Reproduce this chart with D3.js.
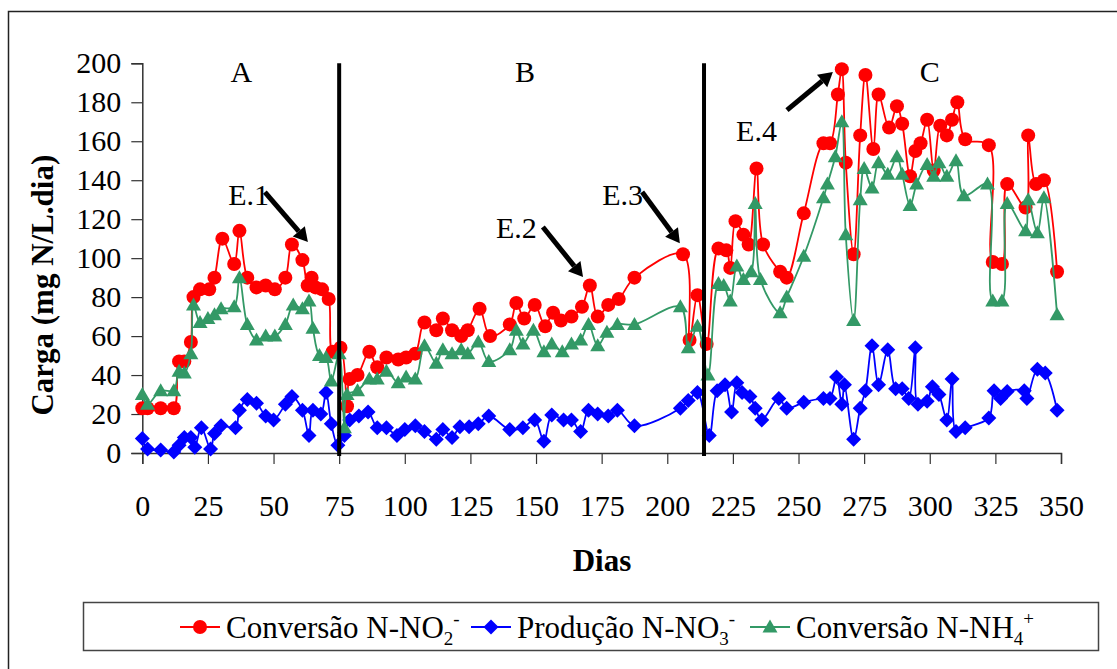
<!DOCTYPE html>
<html>
<head>
<meta charset="utf-8">
<script src="https://cdn.jsdelivr.net/npm/d3@7"></script>
<style>
  body { margin: 0; background: #fff; }
  svg text { font-family: "Liberation Serif", "Times New Roman", "DejaVu Serif", serif; }
</style>
</head>
<body>
<svg id="chart" width="1117" height="669"></svg>
<script>
// Data (day, carga)
const no2Days = [0,2,7,12,14,16,18.5,19.5,22,25.5,27.5,30.5,35,37,40,43.5,47,50.5,54.5,57,61,63,64.5,66,68.5,71,72.5,75.5,78,79,82,86.5,89.5,93,97.5,100.5,104,107.5,112,114.5,118,121.5,124,128.5,132.5,140,142.5,145.5,149.5,153.5,156.5,159.5,163.5,167.5,170.5,173.5,177.5,181.5,187.5,206,208.5,211.5,215,219.5,222.5,224,226,229,231,234,236.5,243,245.5,252,259.5,262,265,266.5,268,271,273.5,275.5,278.5,280.5,284.5,287.5,289.5,292.5,294.5,296.5,299,301.5,304,306.5,308.5,310.5,313.5,322.5,324,327.5,329.5,336.5,337.5,340.5,343.5,348.5];
const no2Vals = [23,23,23,23,47,47,57,80,84,84,90,110,97,114,90,85,86,84,90,107,99,86,90,85,84,79,52,54,24,38,40,52,44,49,48,49,51,67,63,69,63,60,63,74,60,66,77,69,76,65,72,68,70,75,86,70,76,79,90,102,58,81,56,105,104,95,119,112,107,146,107,93,90,123,159,159,184,197,149,102,163,194,156,184,167,178,169,142,155,159,171,145,168,163,171,180,161,158,98,97,138,126,163,138,140,93];

const no3Days = [0,2,7,12,14,16,18.5,20,22.5,26,27.5,30,35.5,37,40,43.5,47,50,54.5,57,61,63.5,65,68,70,72,74.5,77,79,82.5,86,89.5,93,97,100,104,107.5,112,114.5,118,121,124.5,128,132,140,145,149.5,153,156,160.5,163.5,167,170,173.5,177.5,181,187.5,205,208,211.5,216,219,222,224.5,226.5,228.5,231.5,233.5,236,242.5,245.5,252,259.5,262,264.5,266.5,267.5,271,273.5,275.5,278,280.5,284,287,289.5,292,294.5,295.5,299,301,303.5,306.5,308.5,310,313.5,322.5,324.5,327,329.5,336,337,341,344,348.5];
const no3Vals = [7.5,2,1.5,0.5,4,8,8,3,13,2,10,14,13,22,27.5,25.5,19,17,25,29,22,9,22,20,31,15,4,9,17,19,21,13,13,9,12,14,11,7,12,8,13.5,13.5,15,19,12,13,17,6,19.5,17,17,11,22,20,19,22,14,23,27,31,9,32,35,21,36,31,29,23,17,28,23,26,28,28,39,25,35,7,23,32,55,35,53,33,33,28,54,25,26.5,34,30,17,38,11,13,18,32,28,31.5,32,28,43,41,22];

const nh4Days = [0,2,7,12,14,16,18.5,19.5,22,25,27.5,30,35,37,40,43.5,47,50.5,54.5,57.5,61,63.5,65,67.5,70,72,75,77,78,82,86.5,89.5,93,97.5,100.5,104,107.5,112,114.5,118,121.5,124,128,132,140,142.5,145,149,153,156,160,163.5,167,170,173.5,177,181,187.5,205,208,211.5,215.5,219.5,221.5,224,226.5,229,232,233.5,235.5,243,245.5,252,259.5,261,264,266.5,268,271,273.5,275,278,280.5,284,287.5,289.5,292.5,295,299,301.5,303.5,306.5,310,313,322,324,327.5,329.5,336.5,337.5,341,343.5,348.5];
const nh4Vals = [30,25,32,32,42,41,51,76,67,69,71,74,75,90,66,58,60,60,66,76,74,78,64,50,49,37,51,13,30,32,38,38,42,36,39,38,55,46,53,51,53,51,57,47,53,63,56,63,52,56,52,56,58,66,55,62,66,66,75,54,65,40,87,86,78,96,89,93,128,89,72,80,101,131,138,152,170,112,68,130,146,136,149,143,152,143,127,138,148,142,149,142,150,132,138,78,78,128,114,130,113,131,71];

const seriesNames = ["Conversão N-NO", "Produção N-NO", "Conversão N-NH"];
const seriesSub = ["2", "3", "4"];
const seriesSup = ["-", "-", "+"];
const seriesColors = ["#ff0000", "#0000ff", "#339966"];

const xTicks = d3.range(0, 351, 25);
const yTicks = d3.range(0, 201, 20);

const phaseDays = [75, 214];
const phaseLabels = ["A", "B", "C"];
const phaseLabelDays = [37.7, 145.8, 300];

// annotation arrows: label, text position, arrow start, arrow end (day, carga)
const notes = [
  { label: "E.1", tx: 40.5, ty: 133, x1: 46.7, y1: 133.9, x2: 63.1, y2: 108.3 },
  { label: "E.2", tx: 142.5, ty: 116, x1: 152.6, y1: 116, x2: 167.9, y2: 90.3 },
  { label: "E.3", tx: 183, ty: 133, x1: 190.4, y1: 133.9, x2: 204.8, y2: 107.7 },
  { label: "E.4", tx: 234, ty: 166, x1: 245.6, y1: 176, x2: 263.1, y2: 195.5 }
];

const FONT = "Liberation Serif, Times New Roman, DejaVu Serif, serif";

const svg = d3.select("#chart");

const x = d3.scaleLinear().domain([0, 350]).range([142.3, 1061]);
const y = d3.scaleLinear().domain([0, 200]).range([453, 63.3]);

// outer frame
svg.append("path")
  .attr("d", "M8.5,669 L8.5,11.5 L1117,11.5")
  .attr("fill", "none").attr("stroke", "#222").attr("stroke-width", 1.5);

// axes
let yAxis = svg.append("g")
  .attr("transform", `translate(${x(0)},0)`)
  .call(d3.axisLeft(y).tickValues(yTicks).tickSize(11).tickPadding(10));
let xAxis = svg.append("g")
  .attr("transform", `translate(0,${y(0)})`)
  .call(d3.axisBottom(x).tickValues(xTicks).tickSize(11).tickPadding(31));

[yAxis, xAxis].forEach(a => {
  a.attr("font-family", FONT);
  a.select(".domain").attr("stroke", "#333").attr("stroke-width", 1.5);
  a.selectAll(".tick line").attr("stroke", "#333").attr("stroke-width", 1.2);
  a.selectAll(".tick text").attr("font-size", 30).attr("fill", "#000")
    .attr("font-family", FONT);
});

// axis titles
svg.append("text")
  .attr("transform", `translate(53,${(y(0) + y(200)) / 2 + 27}) rotate(-90)`)
  .attr("text-anchor", "middle")
  .attr("font-family", FONT)
  .attr("font-size", 31).attr("font-weight", "bold")
  .text("Carga (mg N/L.dia)");

svg.append("text")
  .attr("x", 602).attr("y", 571)
  .attr("text-anchor", "middle")
  .attr("font-family", FONT)
  .attr("font-size", 31).attr("font-weight", "bold")
  .text("Dias");

// series
const series = [
  { days: no2Days, vals: no2Vals },
  { days: no3Days, vals: no3Vals },
  { days: nh4Days, vals: nh4Vals }
];

const line = d3.line()
  .x(d => x(d[0]))
  .y(d => y(d[1]))
  .curve(d3.curveCatmullRom.alpha(0.5));

function markerPath(i) {
  if (i === 0) return d3.symbol(d3.symbolCircle, Math.PI * 49)();
  if (i === 1) return "M0,-7.5L7.5,0L0,7.5L-7.5,0Z";
  return "M0,-7.5L7.5,5.5L-7.5,5.5Z";
}

series.forEach((s, i) => {
  const pts = s.days.map((d, j) => [d, s.vals[j]]);
  svg.append("path")
    .datum(pts)
    .attr("d", line)
    .attr("fill", "none")
    .attr("stroke", seriesColors[i])
    .attr("stroke-width", 1.8);
  svg.append("g").selectAll("path")
    .data(pts)
    .join("path")
    .attr("d", markerPath(i))
    .attr("transform", d => `translate(${x(d[0])},${y(d[1])})`)
    .attr("fill", seriesColors[i]);
});

// phase separators
svg.selectAll(".phase")
  .data(phaseDays)
  .join("line")
  .attr("class", "phase")
  .attr("x1", d => x(d)).attr("x2", d => x(d))
  .attr("y1", y(200)).attr("y2", y(0) + 3)
  .attr("stroke", "#000").attr("stroke-width", 4);

svg.selectAll(".phase-label")
  .data(phaseLabels)
  .join("text")
  .attr("class", "phase-label")
  .attr("x", (d, i) => x(phaseLabelDays[i]))
  .attr("y", y(200) + 19)
  .attr("text-anchor", "middle")
  .attr("font-family", FONT)
  .attr("font-size", 30)
  .text(d => d);

// annotations
notes.forEach(n => {
  svg.append("text")
    .attr("x", x(n.tx)).attr("y", y(n.ty) + 11)
    .attr("text-anchor", "middle")
    .attr("font-family", FONT)
    .attr("font-size", 30)
    .text(n.label);
  const ax1 = x(n.x1), ay1 = y(n.y1), ax2 = x(n.x2), ay2 = y(n.y2);
  const ang = Math.atan2(ay2 - ay1, ax2 - ax1);
  const headLen = 14, headW = 8;
  const bx = ax2 - headLen * Math.cos(ang), by = ay2 - headLen * Math.sin(ang);
  svg.append("line")
    .attr("x1", ax1).attr("y1", ay1).attr("x2", bx).attr("y2", by)
    .attr("stroke", "#000").attr("stroke-width", 5);
  const px = -Math.sin(ang), py = Math.cos(ang);
  svg.append("path")
    .attr("d", `M${ax2},${ay2}L${bx + px * headW},${by + py * headW}L${bx - px * headW},${by - py * headW}Z`)
    .attr("fill", "#000");
});

// legend
const legend = svg.append("g");
legend.append("rect")
  .attr("x", 83.5).attr("y", 602.5).attr("width", 1015).attr("height", 48)
  .attr("fill", "none").attr("stroke", "#444").attr("stroke-width", 1.5);

const legendX = [180, 471, 750];
seriesNames.forEach((name, i) => {
  const g = legend.append("g").attr("transform", `translate(${legendX[i]},627)`);
  g.append("line").attr("x1", 0).attr("x2", 40)
    .attr("stroke", seriesColors[i]).attr("stroke-width", 1.8);
  g.append("path").attr("d", markerPath(i))
    .attr("transform", "translate(20,0)").attr("fill", seriesColors[i]);
  const t = g.append("text").attr("x", 46).attr("y", 11)
    .attr("font-family", FONT).attr("font-size", 31);
  t.append("tspan").text(name);
  t.append("tspan").attr("font-size", 19).attr("dy", 7).text(seriesSub[i]);
  t.append("tspan").attr("font-size", 19).attr("dy", -20).text(seriesSup[i]);
});
</script>
</body>
</html>
